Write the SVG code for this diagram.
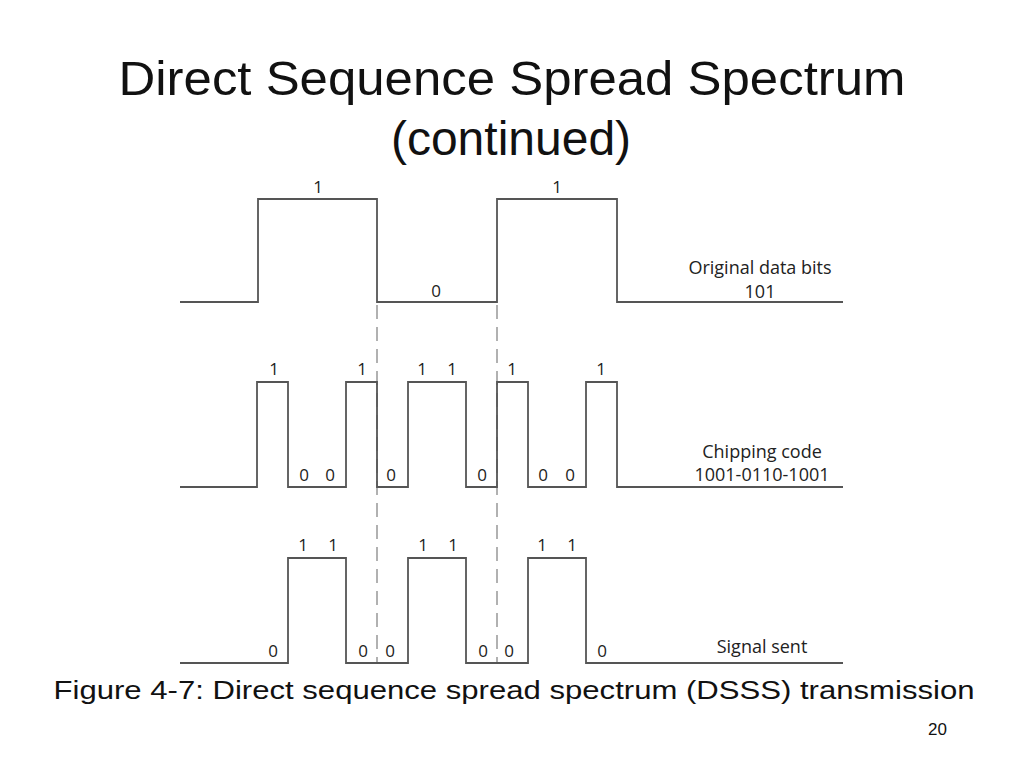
<svg xmlns="http://www.w3.org/2000/svg" width="1024" height="768" viewBox="0 0 1024 768">
<style>
.w{fill:none;stroke:#555;stroke-width:1.8}
.d{fill:none;stroke:#888;stroke-width:1.3;stroke-dasharray:14,8}
.t{font-family:"Liberation Sans",Arial,sans-serif;fill:#111}
.s{font-family:"Open Sans","DejaVu Sans",sans-serif;font-size:17px;fill:#222;text-anchor:middle}
.l{font-family:"Open Sans","DejaVu Sans",sans-serif;font-size:18px;fill:#222;text-anchor:middle}
</style>
<rect width="1024" height="768" fill="#fff"/>
<text class="t" x="512" y="95" font-size="48" text-anchor="middle" textLength="787" lengthAdjust="spacingAndGlyphs">Direct Sequence Spread Spectrum</text>
<text class="t" x="511" y="155" font-size="48" text-anchor="middle">(continued)</text>
<g id="connectors">
<path class="d" d="M377,305V663M497,305V663"/>
</g>
<g id="data">
<path class="w" d="M180,302H258V199H377V302H497V199H617V302H843"/>
<text class="s" x="318" y="193">1</text><text class="s" x="436" y="297">0</text><text class="s" x="557" y="193">1</text>
<text class="l" x="760" y="274">Original data bits</text><text class="l" x="760" y="298">101</text>
</g>
<g id="chip">
<path class="w" d="M180,487H257V382H288V487H346V382H377V487H408V382H466V487H497V382H528V487H586V382H617V487H843"/>
<text class="s" x="274" y="375">1</text><text class="s" x="362" y="375">1</text><text class="s" x="422" y="375">1</text><text class="s" x="452" y="375">1</text><text class="s" x="512" y="375">1</text><text class="s" x="601" y="375">1</text>
<text class="s" x="304" y="481">0</text><text class="s" x="330" y="481">0</text><text class="s" x="391" y="481">0</text><text class="s" x="482" y="481">0</text><text class="s" x="543" y="481">0</text><text class="s" x="570" y="481">0</text>
<text class="l" x="762" y="458">Chipping code</text><text class="l" x="762" y="481">1001-0110-1001</text>
</g>
<g id="signal">
<path class="w" d="M180,663H288V558H346V663H408V558H466V663H528V558H586V663H843"/>
<text class="s" x="303" y="551">1</text><text class="s" x="333" y="551">1</text><text class="s" x="423" y="551">1</text><text class="s" x="453" y="551">1</text><text class="s" x="542" y="551">1</text><text class="s" x="572" y="551">1</text>
<text class="s" x="273" y="657">0</text><text class="s" x="363" y="657">0</text><text class="s" x="390" y="657">0</text><text class="s" x="483" y="657">0</text><text class="s" x="509" y="657">0</text><text class="s" x="602" y="657">0</text>
<text class="l" x="762" y="653">Signal sent</text>
</g>
<text class="t" x="514" y="699" font-size="25" text-anchor="middle" textLength="921" lengthAdjust="spacingAndGlyphs">Figure 4-7: Direct sequence spread spectrum (DSSS) transmission</text>
<text class="t" x="947" y="735" font-size="17" text-anchor="end">20</text>
</svg>
